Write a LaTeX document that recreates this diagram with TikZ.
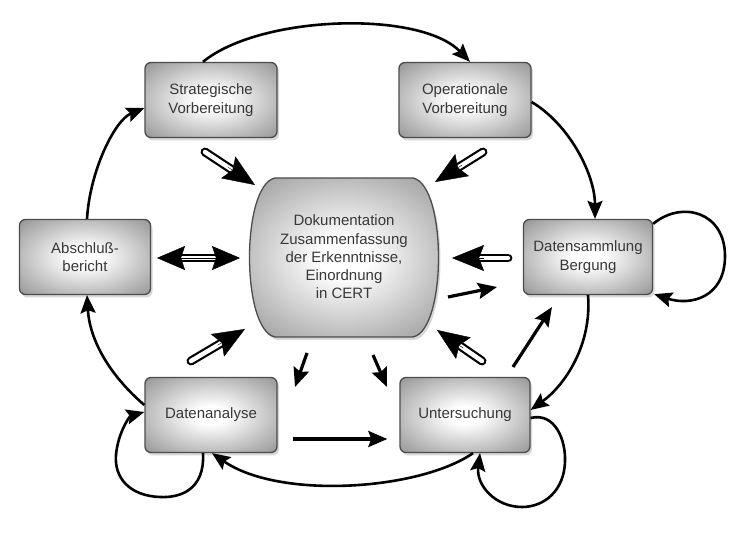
\documentclass[tikz,border=0pt]{standalone}
\usepackage{fontspec}
\setmainfont{Liberation Sans}
\usetikzlibrary{arrows.meta,calc,shadows}

\pgfdeclareradialshading{boxshade}{\pgfpoint{0bp}{0bp}}{%
  color(0bp)=(white); color(6bp)=(white); color(25bp)=(black!27);
  color(36bp)=(black!42); color(50bp)=(black!42)}

\tikzset{
  txt/.style={align=center, font=\fontsize{15}{18.3}\selectfont, text=black!78},
  shaded/.style={draw=black!70, line width=1.3pt, shading=boxshade,
    drop shadow={opacity=0.3, shadow xshift=2pt, shadow yshift=-3pt}},
  box/.style={txt, shaded, rectangle, rounded corners=6pt, minimum width=132pt, minimum height=75pt},
  cyc/.style={line width=2.6pt, -{Stealth[length=18pt,width=15pt,inset=3pt]}},
  sarrow/.style={line width=3.2pt, -{Stealth[length=19pt,width=16pt,inset=3pt]}},
  shaft/.style={draw=black, line width=2.2pt, double=white, double distance=4.5pt, line cap=round},
  bhead/.style={line width=0.4pt, -{Stealth[length=32pt,width=26pt,inset=5pt]}},
  dhead/.style={line width=0.4pt, -{Stealth[length=28pt,width=24pt,inset=4pt]}},
}
\newcommand\hollowarrow[2]{%
  \draw[shaft] (#1) -- ($(#2)!20pt!(#1)$);
  \draw[bhead] ($(#2)!32pt!(#1)$) -- (#2);}

\begin{document}
\begin{tikzpicture}[x=1pt,y=-1pt]
\useasboundingbox[fill=white] (0,0) rectangle (748,553);

% boxes
\node[box] (strat) at (211,100) {Strategische\\Vorbereitung};
\node[box] (oper)  at (465,100) {Operationale\\Vorbereitung};
\node[box, minimum width=131pt] (absch) at (85,257) {Abschluß-\\bericht};
\node[box, minimum width=129pt] (dats)  at (588,257) {Datensammlung\\Bergung};
\node[box] (dana)  at (211,415) {Datenanalyse};
\node[box, minimum width=130pt] (unt)   at (465,415) {Untersuchung};

% central barrel
\path[shaded]
  (275,178) -- (413,178) .. controls (447,185) and (447,330) .. (413,337)
  -- (275,337) .. controls (241,330) and (241,185) .. cycle;
\node[txt] (doc) at (344,257) {Dokumentation\\Zusammenfassung\\der Erkenntnisse,\\Einordnung\\in CERT};

% outer cycle
\draw[cyc] ([xshift=-8pt]strat.north) .. controls (260,15) and (420,10) .. ([xshift=5pt]oper.north);
\draw[cyc] ([yshift=-2pt]oper.east) .. controls (570,125) and (595,175) .. ([xshift=7pt]dats.north);
\draw[cyc] (dats.south) .. controls (592,345) and (565,385) .. ([yshift=5pt]unt.east);
\draw[cyc] ([xshift=8pt]unt.south) .. controls (420,490) and (280,500) .. ([xshift=1pt]dana.south);
\draw[cyc] ([yshift=10pt]dana.west) .. controls (115,380) and (90,345) .. ([xshift=2pt]absch.south);
\draw[cyc] ([xshift=2pt]absch.north) .. controls (90,170) and (115,120) .. ([yshift=-8pt]strat.west);

% self loops
\draw[cyc] ([yshift=-5pt]dats.north east) .. controls (682,200) and (725,212) .. (725,256)
  .. controls (725,298) and (690,306) .. ([xshift=1pt,yshift=1pt]dats.south east);
\draw[cyc] ([yshift=-3pt]unt.east) .. controls (555,412) and (566,440) .. (565,462)
  .. controls (564,490) and (545,507) .. (522,507)
  .. controls (495,507) and (476,485) .. ([xshift=15pt]unt.south);
\draw[cyc] ([xshift=-8pt]dana.south) .. controls (205,490) and (180,498) .. (160,497)
  .. controls (130,496) and (114,478) .. (116,455)
  .. controls (118,432) and (130,416) .. ([yshift=3pt]dana.west);

% hollow block arrows
\coordinate (t1) at (205,152); \coordinate (p1) at (255,185);
\coordinate (t2) at (483,152); \coordinate (p2) at (435,182);
\coordinate (t4) at (508,258); \coordinate (p4) at (452,258);
\coordinate (t5) at (191,361); \coordinate (p5) at (245,329);
\coordinate (t6) at (482,361); \coordinate (p6) at (437,330);
\hollowarrow{t1}{p1}
\hollowarrow{t2}{p2}
\hollowarrow{t4}{p4}
\hollowarrow{t5}{p5}
\hollowarrow{t6}{p6}

% double hollow arrow
\coordinate (da) at (157,258); \coordinate (db) at (240,258);
\draw[shaft, line cap=butt] ($(da)!22pt!(db)$) -- ($(db)!22pt!(da)$);
\draw[dhead] ($(db)!28pt!(da)$) -- (da);
\draw[dhead] ($(da)!28pt!(db)$) -- (db);

% small straight arrows
\coordinate (a1) at (448,297); \coordinate (b1) at (497,287);
\coordinate (a2) at (513,367); \coordinate (b2) at (552,307);
\coordinate (a3) at (307,353); \coordinate (b3) at (295,387);
\coordinate (a4) at (373,355); \coordinate (b4) at (387,387);
\draw[sarrow] (a1) -- (b1);
\draw[sarrow] (a2) -- (b2);
\draw[sarrow] (a3) -- (b3);
\draw[sarrow] (a4) -- (b4);
\draw[sarrow] ([xshift=15pt,yshift=-24pt]dana.east) -- ([xshift=-12pt,yshift=-24pt]unt.west);
\end{tikzpicture}
\end{document}
